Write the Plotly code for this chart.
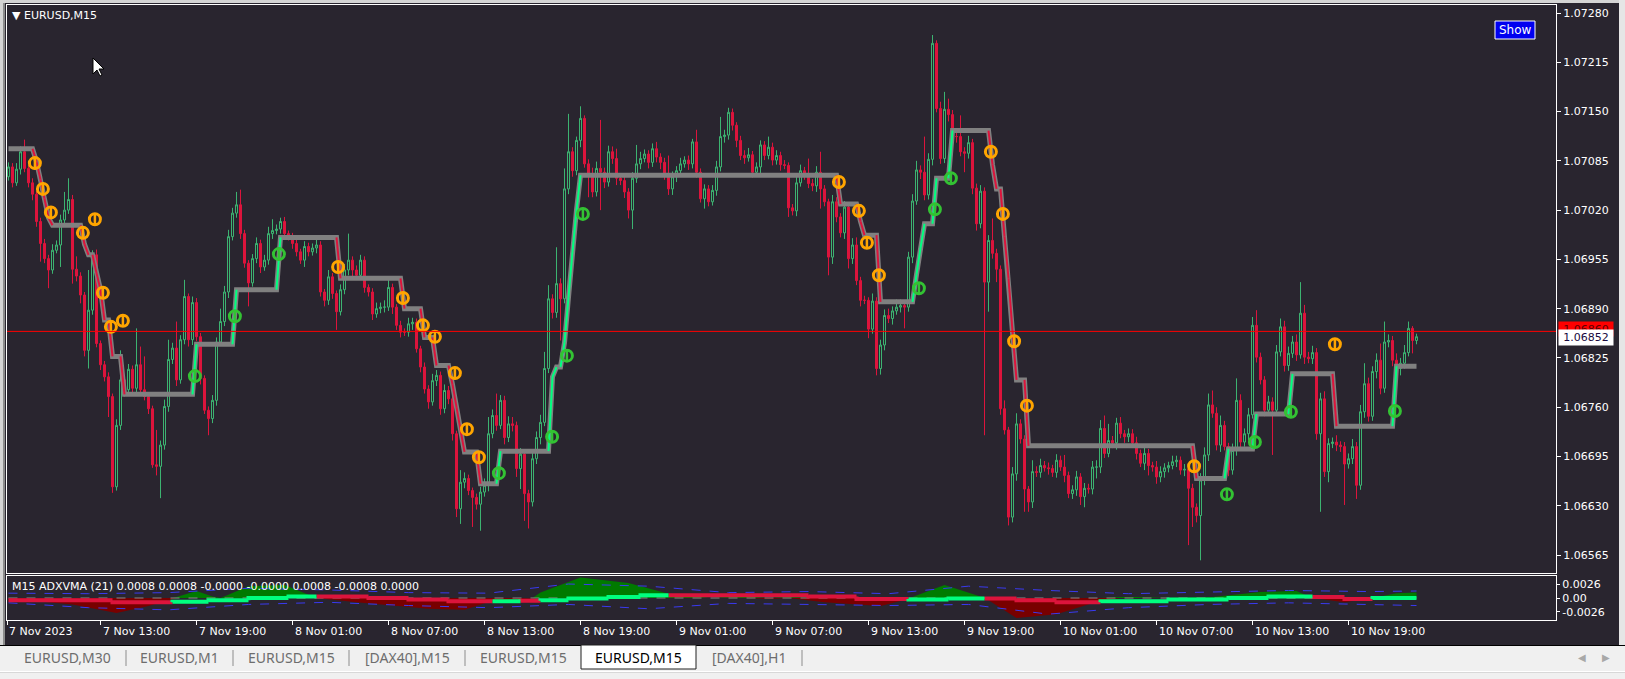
import plotly.graph_objects as go

W, H = 1625, 679
BASE, UNIT = 1.06000, 0.00001

# ---------------- price data (units of 0.00001 above 1.06000) ----------------
OPEN0 = 1064
CLOSE = [
    1077, 1056, 1074, 1097, 1075, 1056, 1041, 1005, 976, 956, 941, 967, 974, 1007, 1020, 1034, 942, 933, 908, 835,
    888, 961, 844, 816, 800, 774, 655, 736, 796, 783, 810, 785, 816, 783, 774, 758, 684, 682, 710, 761,
    823, 838, 796, 849, 906, 849, 898, 853, 798, 756, 745, 769, 846, 873, 912, 985, 1016, 1027, 989, 950,
    924, 956, 976, 945, 954, 989, 993, 995, 1005, 989, 985, 976, 965, 954, 972, 965, 970, 974, 912, 901,
    932, 910, 886, 915, 941, 954, 941, 934, 954, 918, 912, 883, 890, 892, 892, 918, 892, 868, 859, 859,
    870, 872, 837, 813, 784, 767, 795, 802, 758, 782, 771, 725, 626, 661, 666, 650, 641, 632, 648, 657,
    725, 749, 736, 769, 720, 738, 736, 679, 698, 646, 635, 692, 720, 740, 811, 903, 885, 923, 903, 1048,
    1097, 1072, 1112, 1141, 1081, 1068, 1044, 1075, 1070, 1057, 1097, 1088, 1062, 1059, 1044, 1020, 1062, 1081, 1088, 1094,
    1083, 1101, 1090, 1083, 1066, 1048, 1064, 1072, 1081, 1086, 1081, 1110, 1070, 1035, 1048, 1031, 1046, 1077, 1117, 1119,
    1149, 1132, 1112, 1092, 1089, 1093, 1070, 1077, 1106, 1092, 1103, 1086, 1092, 1080, 1079, 1023, 1019, 1056, 1072, 1068,
    1055, 1052, 1070, 1048, 1031, 958, 1031, 1011, 990, 1024, 956, 974, 927, 901, 901, 863, 900, 811, 842, 881,
    877, 887, 892, 894, 892, 958, 1032, 1073, 1070, 1040, 1087, 1240, 1154, 1088, 1153, 1146, 1117, 1117, 1097, 1095,
    1109, 1049, 1002, 1045, 925, 980, 963, 942, 758, 730, 615, 672, 738, 718, 652, 635, 675, 674, 683, 680,
    679, 674, 690, 681, 670, 646, 651, 668, 642, 653, 652, 681, 681, 732, 699, 716, 713, 739, 725, 721,
    725, 713, 699, 686, 699, 683, 681, 668, 675, 680, 683, 688, 690, 677, 678, 653, 628, 617, 664, 697,
    763, 752, 710, 736, 708, 677, 703, 769, 714, 725, 750, 868, 826, 796, 756, 767, 756, 833, 866, 815,
    831, 846, 829, 884, 826, 824, 832, 725, 771, 675, 712, 714, 710, 708, 685, 692, 708, 657, 754, 791,
    748, 807, 822, 785, 846, 848, 822, 811, 818, 832, 864, 848, 853,
]
WICK_UP = [
    6, 5, 8, 7, 16, 5, 6, 4, 5, 6, 5, 8, 6, 7, 24, 28, 6, 17, 5, 4,
    53, 6, 7, 4, 5, 6, 4, 8, 39, 6, 7, 5, 48, 24, 44, 5, 4, 46, 6, 9,
    26, 7, 35, 6, 22, 4, 8, 6, 5, 4, 5, 7, 6, 17, 8, 9, 7, 17, 20, 5,
    4, 6, 8, 5, 7, 9, 15, 6, 5, 6, 4, 5, 6, 4, 7, 5, 6, 8, 5, 4,
    9, 5, 4, 7, 8, 35, 5, 6, 7, 5, 4, 5, 8, 6, 9, 10, 5, 4, 6, 5,
    8, 6, 5, 4, 6, 5, 9, 7, 5, 8, 6, 5, 4, 16, 8, 5, 4, 5, 7, 9,
    22, 8, 29, 7, 6, 10, 9, 5, 8, 4, 5, 9, 8, 10, 22, 18, 6, 48, 7, 27,
    50, 6, 5, 16, 4, 6, 8, 9, 64, 6, 8, 7, 13, 5, 6, 5, 8, 25, 9, 6,
    5, 7, 9, 5, 6, 26, 7, 6, 8, 5, 6, 4, 16, 5, 6, 5, 7, 8, 26, 7,
    6, 5, 4, 6, 7, 9, 5, 6, 6, 5, 14, 6, 7, 5, 6, 4, 5, 9, 8, 5,
    20, 6, 8, 27, 5, 4, 9, 6, 5, 8, 4, 9, 10, 5, 6, 4, 10, 5, 7, 8,
    9, 6, 10, 8, 5, 7, 9, 12, 6, 47, 8, 11, 4, 9, 23, 14, 6, 8, 28, 6,
    9, 5, 6, 8, 5, 7, 29, 6, 5, 11, 4, 9, 14, 6, 5, 4, 15, 7, 9, 6,
    7, 5, 8, 6, 16, 5, 6, 8, 5, 7, 6, 8, 9, 11, 17, 22, 6, 7, 8, 5,
    7, 6, 8, 5, 9, 6, 5, 8, 7, 6, 5, 8, 6, 5, 7, 4, 6, 5, 9, 10,
    15, 19, 8, 13, 6, 5, 9, 29, 8, 7, 9, 11, 20, 6, 5, 8, 6, 9, 11, 8,
    9, 8, 10, 41, 11, 7, 9, 6, 8, 10, 7, 6, 9, 5, 6, 7, 10, 6, 9, 27,
    8, 7, 9, 22, 27, 8, 6, 9, 7, 10, 9, 3, 4,
]
WICK_DN = [
    5, 6, 4, 7, 5, 6, 8, 7, 24, 6, 24, 5, 4, 29, 6, 5, 19, 7, 11, 8,
    24, 6, 5, 7, 6, 27, 8, 5, 6, 9, 7, 5, 6, 8, 5, 7, 4, 12, 42, 6,
    7, 6, 8, 5, 6, 9, 7, 6, 8, 5, 22, 6, 7, 5, 6, 8, 5, 6, 7, 6,
    31, 5, 6, 8, 5, 6, 7, 5, 6, 8, 5, 7, 6, 5, 9, 6, 5, 7, 6, 8,
    6, 7, 24, 5, 6, 7, 8, 6, 5, 7, 6, 8, 5, 6, 7, 5, 9, 6, 7, 5,
    6, 8, 5, 7, 6, 9, 5, 7, 8, 6, 7, 9, 11, 20, 8, 6, 39, 7, 35, 6,
    8, 6, 7, 5, 9, 6, 8, 11, 27, 36, 35, 6, 7, 9, 5, 6, 8, 7, 55, 6,
    7, 8, 6, 9, 5, 31, 7, 6, 50, 8, 6, 7, 9, 6, 8, 11, 25, 6, 7, 5,
    8, 6, 7, 9, 6, 8, 8, 7, 6, 5, 8, 6, 7, 5, 13, 6, 5, 7, 6, 8,
    6, 7, 9, 6, 8, 5, 7, 6, 8, 6, 5, 7, 6, 8, 5, 12, 6, 7, 5, 8,
    6, 7, 8, 26, 6, 24, 9, 7, 6, 8, 13, 7, 6, 8, 5, 12, 6, 9, 8, 7,
    6, 8, 5, 7, 28, 6, 8, 5, 9, 7, 6, 8, 5, 7, 6, 9, 5, 8, 6, 25,
    7, 8, 9, 6, 202, 39, 7, 17, 8, 6, 11, 7, 9, 6, 30, 13, 8, 6, 7, 5,
    8, 6, 7, 5, 9, 6, 7, 8, 11, 14, 6, 7, 15, 8, 6, 5, 7, 9, 6, 8,
    7, 6, 8, 5, 9, 13, 6, 9, 7, 8, 6, 5, 7, 6, 8, 75, 26, 9, 59, 7,
    8, 6, 7, 9, 5, 8, 6, 7, 8, 6, 9, 5, 7, 6, 8, 5, 59, 7, 6, 8,
    7, 6, 8, 5, 9, 6, 7, 8, 103, 7, 14, 6, 8, 7, 54, 6, 7, 18, 6, 8,
    7, 6, 9, 8, 6, 7, 8, 6, 9, 7, 5, 17, 5,
]

# ADXVMA step line: level (price units) and number of bars it holds
ADX_LEVEL = [1101, 1084, 1060, 1035, 1010, 1000, 975, 961, 937, 915, 875, 827, 777, 843, 915,
             984, 930, 890, 852, 815, 790, 760, 730, 701, 659, 702, 800, 813, 845, 905,
             965, 1020, 1066, 1028, 1005, 987, 899, 935, 970, 1002, 1062, 1125, 1080, 1048, 985,
             930, 860, 796, 709, 666, 705, 751, 804, 735, 814]
ADX_COUNT = [7, 1, 1, 1, 1, 8, 1, 2, 1, 1, 2, 3, 18, 10, 11,
             15, 16, 5, 3, 4, 1, 1, 1, 4, 5, 13, 1, 2, 1, 1,
             1, 1, 65, 5, 1, 4, 9, 1, 1, 3, 4, 10, 1, 2, 1,
             1, 1, 3, 42, 8, 7, 9, 11, 15, 6]

# signal arrows (bar index, price units)
SELL_X = [6.6, 8.6, 10.6, 18.6, 21.6, 23.6, 25.6, 28.6, 82.4, 98.6, 103.6, 106.6, 111.6, 114.6, 117.6,
          207.6, 212.6, 214.6, 217.6, 245.6, 248.6, 251.4, 254.6, 296.4, 331.6]
SELL_Y = [1082, 1048, 1017, 990, 1008, 911, 866, 874, 945, 904, 868, 853, 805, 731, 694,
          1057, 1019, 977, 934, 1097, 1015, 847, 762, 682, 843]
BUY_X = [46.6, 56.6, 67.6, 122.6, 135.9, 139.6, 143.6, 227.6, 231.6, 235.6, 304.6, 311.6, 320.6, 346.6]
BUY_Y = [801, 880, 962, 673, 721, 828, 1015, 917, 1021, 1062, 645, 714, 754, 755]

# ---------------- sub-window (ADXVMA oscillator), values in 1e-4 ----------------
OSC_X = [0, 7, 16, 27, 35, 41, 42, 47, 51, 53, 60, 69, 77, 87, 105, 114, 121, 128, 131, 133,
         143, 155, 165, 175, 185, 190, 195, 204, 218, 225, 226, 234, 243, 245, 252, 262, 273, 278, 282, 290,
         301, 313, 322, 326, 334, 341, 347, 352]
OSC_V = [-4, -6, -12, -28, -15, -2, 2, 13, 3, 0, 22, 24, 0, -8, -20, -22, -5, -2, 0, 10,
         38, 28, 8, 0, 3, -2, 2, -8, -15, -2, 2, 24, 3, -4, -37, -30, -5, 2, 2, -1,
         2, 11, 13, 0, -8, 0, 9, 10]
SEG_X0 = [0, 26, 41, 50, 60, 70, 77, 90, 100, 110, 121, 128, 133, 140, 150, 158, 165, 200, 212, 225,
          235, 244, 252, 262, 273, 290, 305, 315, 326, 334, 341]
SEG_X1 = [26, 41, 50, 60, 70, 77, 90, 100, 110, 121, 128, 133, 140, 150, 158, 165, 200, 212, 225, 235,
          244, 252, 262, 273, 290, 305, 315, 326, 334, 341, 352]
SEG_V = [-4, -8, -7, -4, 0, 3, 3, 0, -3, -6, -6, -5, -4, -1, 2, 5, 5, 3, -2, -3,
         -1, -1, -4, -8, -6, -3, 0, 3, 2, -2, 0]
SEG_UP = [0, 0, 1, 1, 1, 1, 0, 0, 0, 0, 1, 0, 1, 1, 1, 1, 0, 0, 0, 1,
          1, 0, 0, 0, 1, 1, 1, 1, 0, 0, 1]
BAND_X = [0, 20, 40, 60, 80, 100, 120, 140, 160, 180, 200, 220, 240, 260, 280, 300, 320, 340, 352]
BAND_UP = [9, 8, 10, 18, 15, 10, 9, 26, 22, 10, 12, 8, 22, 14, 8, 11, 14, 12, 13]
BAND_DN = [-9, -18, -22, -12, -8, -14, -18, -12, -20, -10, -12, -14, -12, -30, -18, -12, -9, -12, -14]

# ---------------- axes text ----------------
Y_TICKS = [1.07280, 1.07215, 1.07150, 1.07085, 1.07020, 1.06955,
           1.06890, 1.06825, 1.06760, 1.06695, 1.06630, 1.06565]
IND_TICKS = [0.0026, 0.0, -0.0026]
IND_TICK_TEXT = ["0.0026", "0.00", "-0.0026"]
X_TICK_BARS = [-0.3, 23, 47, 71, 95, 119, 143, 167, 191, 215, 239, 263, 287, 311, 335]
X_TICK_TEXT = ["7 Nov 2023", "7 Nov 13:00", "7 Nov 19:00", "8 Nov 01:00", "8 Nov 07:00",
               "8 Nov 13:00", "8 Nov 19:00", "9 Nov 01:00", "9 Nov 07:00", "9 Nov 13:00",
               "9 Nov 19:00", "10 Nov 01:00", "10 Nov 07:00", "10 Nov 13:00", "10 Nov 19:00"]
BID, ASK = 1.06852, 1.06860
TAB_TEXT = ["EURUSD,M30", "EURUSD,M1", "EURUSD,M15", "[DAX40],M15", "EURUSD,M15", "EURUSD,M15", "[DAX40],H1"]
ACTIVE_TAB = 5
IND_LABEL = "M15 ADXVMA (21) 0.0008 0.0008 -0.0000 -0.0000 0.0008 -0.0008 0.0000"

# ---------------- helpers ----------------
def fx(x):
    return x / W


def fy(y):
    return 1 - y / H


BG = "#29252F"
FONT = "DejaVu Sans"
n = len(CLOSE)
bars = list(range(n))
close = [BASE + c * UNIT for c in CLOSE]
opn = [BASE + OPEN0 * UNIT] + close[:-1]
high = [max(o, c) + u * UNIT for o, c, u in zip(opn, close, WICK_UP)]
low = [min(o, c) - d * UNIT for o, c, d in zip(opn, close, WICK_DN)]

adx = []
for lv, cnt in zip(ADX_LEVEL, ADX_COUNT):
    adx += [BASE + lv * UNIT] * cnt

XR = [-0.5, 386.875]
XD = [fx(6.5), fx(1556)]

fig = go.Figure()

fig.add_trace(go.Candlestick(
    x=bars, open=opn, high=high, low=low, close=close,
    increasing=dict(line=dict(color="#3CB371", width=1), fillcolor=BG),
    decreasing=dict(line=dict(color="#DC143C", width=1), fillcolor="#DC143C"),
    whiskerwidth=0, hoverinfo="skip", xaxis="x", yaxis="y", showlegend=False))

fig.add_trace(go.Scatter(x=bars, y=adx, mode="lines", line=dict(color="#808080", width=5),
                         hoverinfo="skip", showlegend=False, xaxis="x", yaxis="y"))

rx, ry, gx, gy = [], [], [], []
for i in range(n - 1):
    if adx[i + 1] < adx[i]:
        rx += [i, i + 1, None]
        ry += [adx[i], adx[i + 1], None]
    elif adx[i + 1] > adx[i]:
        gx += [i, i + 1, None]
        gy += [adx[i], adx[i + 1], None]
fig.add_trace(go.Scatter(x=rx, y=ry, mode="lines", line=dict(color="#DC143C", width=2),
                         hoverinfo="skip", showlegend=False, xaxis="x", yaxis="y"))
fig.add_trace(go.Scatter(x=gx, y=gy, mode="lines", line=dict(color="#00FF7F", width=2),
                         hoverinfo="skip", showlegend=False, xaxis="x", yaxis="y"))

for xs, ys, col in ((SELL_X, SELL_Y, "#FFA500"), (BUY_X, BUY_Y, "#33C233")):
    yy = [BASE + v * UNIT for v in ys]
    fig.add_trace(go.Scatter(x=xs, y=yy, mode="markers",
                             marker=dict(symbol="circle-open", size=11, color=col,
                                         line=dict(color=col, width=3)),
                             hoverinfo="skip", showlegend=False, xaxis="x", yaxis="y"))
    fig.add_trace(go.Scatter(x=xs, y=yy, mode="markers",
                             marker=dict(symbol="line-ns-open", size=9, color=col,
                                         line=dict(color=col, width=2.5)),
                             hoverinfo="skip", showlegend=False, xaxis="x", yaxis="y"))

# ask line
fig.add_trace(go.Scatter(x=XR, y=[ASK, ASK], mode="lines", line=dict(color="#FF0000", width=1),
                         hoverinfo="skip", showlegend=False, xaxis="x", yaxis="y"))

# ---------------- sub-window ----------------
pos = [max(v, 0) * 1e-4 for v in OSC_V]
neg = [min(v, 0) * 1e-4 for v in OSC_V]
fig.add_trace(go.Scatter(x=OSC_X, y=pos, mode="lines", fill="tozeroy", fillcolor="#007A00",
                         line=dict(width=0, color="#007A00"), hoverinfo="skip", showlegend=False,
                         xaxis="x2", yaxis="y2"))
fig.add_trace(go.Scatter(x=OSC_X, y=neg, mode="lines", fill="tozeroy", fillcolor="#780000",
                         line=dict(width=0, color="#780000"), hoverinfo="skip", showlegend=False,
                         xaxis="x2", yaxis="y2"))
fig.add_trace(go.Scatter(x=[0, n - 1], y=[0, 0], mode="lines",
                         line=dict(color="#8A8A8A", width=1, dash="dash"), hoverinfo="skip",
                         showlegend=False, xaxis="x2", yaxis="y2"))
for band in (BAND_UP, BAND_DN):
    fig.add_trace(go.Scatter(x=BAND_X, y=[b * 1e-4 for b in band], mode="lines",
                             line=dict(color="#3A3AF0", width=1, dash="dash"), hoverinfo="skip",
                             showlegend=False, xaxis="x2", yaxis="y2"))

for up_flag, col in ((0, "#DC143C"), (1, "#00FF7F")):
    sx, sy = [], []
    prev = SEG_V[0]
    for x0, x1, v, u in zip(SEG_X0, SEG_X1, SEG_V, SEG_UP):
        if u == up_flag:
            sx += [x0, x0, x1, None]
            sy += [prev * 1e-4, v * 1e-4, v * 1e-4, None]
        prev = v
    fig.add_trace(go.Scatter(x=sx, y=sy, mode="lines", line=dict(color=col, width=4),
                             hoverinfo="skip", showlegend=False, xaxis="x2", yaxis="y2"))

# ---------------- shapes ----------------
shapes = []


def rect(x0, y0, x1, y1, fill, line=None, lw=0, layer="above"):
    shapes.append(dict(type="rect", xref="paper", yref="paper", x0=fx(x0), x1=fx(x1),
                       y0=fy(y1), y1=fy(y0), fillcolor=fill, layer=layer,
                       line=dict(color=line or fill, width=lw)))


def hline(x0, x1, y, col, lw=1):
    shapes.append(dict(type="line", xref="paper", yref="paper", x0=fx(x0), x1=fx(x1),
                       y0=fy(y), y1=fy(y), line=dict(color=col, width=lw)))


def vline(x, y0, y1, col, lw=1):
    shapes.append(dict(type="line", xref="paper", yref="paper", x0=fx(x), x1=fx(x),
                       y0=fy(y0), y1=fy(y1), line=dict(color=col, width=lw)))


# outer window frame
rect(0, 0, W, 3, "#D4D4D4")
rect(0, 0, 3, 645, "#D4D4D4")
rect(3, 3, 5, 645, "#8C8C8C")
rect(1619, 0, W, 645, "#E6E6E6")
# tab bar
rect(0, 645, W, H, "#F0F0F0")
hline(0, W, 645.5, "#000000")
hline(0, W, 671.5, "#FFFFFF")
hline(0, W, 672.5, "#D8D8D8")
tab_edges = [8, 126, 233, 349, 465, 581, 696, 802]
for i, e in enumerate(tab_edges[1:], start=1):
    if i not in (ACTIVE_TAB, ACTIVE_TAB + 1):
        vline(e, 650, 666, "#8C8C8C")
rect(tab_edges[ACTIVE_TAB], 645, tab_edges[ACTIVE_TAB + 1], 669, "#FFFFFF", "#202020", 1)
# Show button
rect(1495, 21, 1535, 39, "#0000F0", "#FFFFFF", 1)
# mouse cursor
tx, ty = 93, 58
pts = [(0, 0), (0, 16), (4, 12), (7, 18), (9, 17), (6, 11), (11, 11)]
path = "M " + " L ".join(f"{fx(tx + a):.5f},{fy(ty + b):.5f}" for a, b in pts) + " Z"
shapes.append(dict(type="path", xref="paper", yref="paper", path=path,
                   fillcolor="#FFFFFF", line=dict(color="#000000", width=1)))

# ---------------- annotations ----------------
ann = []


def text(x, y, s, size=11, color="#FFFFFF", anchor="left", family=FONT, **kw):
    ann.append(dict(x=fx(x), y=fy(y), xref="paper", yref="paper", text=s, showarrow=False,
                    xanchor=anchor, yanchor="middle", font=dict(family=family, size=size, color=color), **kw))


text(10, 15, "▼ EURUSD,M15")
text(10, 586, IND_LABEL)
text(1515, 30, "Show", size=12, anchor="center")
for b, s in zip(X_TICK_BARS, X_TICK_TEXT):
    ann.append(dict(x=b, xref="x2", y=fy(631), yref="paper", text=s, showarrow=False,
                    xanchor="left", yanchor="middle", xshift=0,
                    font=dict(family=FONT, size=11, color="#FFFFFF")))
for i, s in enumerate(TAB_TEXT):
    cx = (tab_edges[i] + tab_edges[i + 1]) / 2
    text(cx, 657, s, size=14, color="#000000" if i == ACTIVE_TAB else "#6D6D6D",
         anchor="center", family="Noto Sans")
text(1582, 657, "◀", size=10, color="#A8A8A8", anchor="center")
text(1606, 657, "▶", size=10, color="#A8A8A8", anchor="center")
# price labels (ask label partly hidden behind bid label, as in the terminal)
ann.append(dict(x=fx(1558), y=ASK, xref="paper", yref="y", text=f"{ASK:.5f}", showarrow=False,
                xanchor="left", yanchor="middle", yshift=2, width=52, height=12, bgcolor="#FF0000",
                font=dict(family=FONT, size=11, color="#600000")))
ann.append(dict(x=fx(1558), y=BID, xref="paper", yref="y", text=f"{BID:.5f}", showarrow=False,
                xanchor="left", yanchor="middle", width=52, height=13, bgcolor="#FFFFFF",
                font=dict(family=FONT, size=11, color="#1A0A40")))

axis_common = dict(showgrid=False, zeroline=False, showline=True, mirror=True,
                   linecolor="#FFFFFF", linewidth=1)

fig.update_layout(
    width=W, height=H, margin=dict(l=0, r=0, t=0, b=0),
    paper_bgcolor=BG, plot_bgcolor=BG, showlegend=False, hovermode=False,
    boxgap=0.5, boxgroupgap=0,
    shapes=shapes, annotations=ann,
    xaxis=dict(domain=XD, range=XR, anchor="y", showticklabels=False, ticks="",
               rangeslider=dict(visible=False), **axis_common),
    yaxis=dict(domain=[fy(573), fy(5)], anchor="x", side="right",
               range=[BASE + 541.25 * UNIT, BASE + 1290.6 * UNIT],
               tickvals=Y_TICKS, ticktext=[f"{v:.5f}" for v in Y_TICKS],
               ticks="outside", ticklen=4, tickcolor="#FFFFFF",
               tickfont=dict(family=FONT, size=11, color="#FFFFFF"), **axis_common),
    xaxis2=dict(domain=XD, range=XR, anchor="y2", showticklabels=False,
                tickvals=X_TICK_BARS, ticks="outside", ticklen=4, tickcolor="#FFFFFF",
                **axis_common),
    yaxis2=dict(domain=[fy(620), fy(576)], anchor="x2", side="right",
                range=[-0.00409, 0.00409], tickvals=IND_TICKS, ticktext=IND_TICK_TEXT,
                ticks="outside", ticklen=3, tickcolor="#FFFFFF",
                tickfont=dict(family=FONT, size=11, color="#FFFFFF"), **axis_common),
)

fig.write_html("out.html", config={"displayModeBar": False},
               post_script="document.body.style.margin='0';document.body.style.overflow='hidden';")
